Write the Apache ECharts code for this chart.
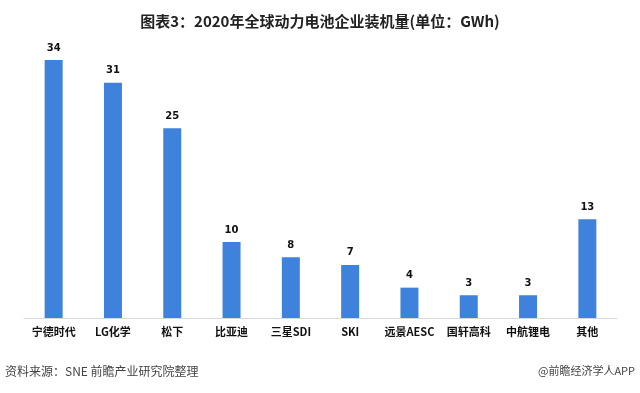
<!DOCTYPE html>
<html><head><meta charset="utf-8">
<script src="https://cdn.jsdelivr.net/npm/echarts@6/dist/echarts.min.js"></script>
<style>html,body{margin:0;padding:0;background:#fff}#c{width:640px;height:393px}</style>
</head><body><div id="c"></div>
<script>
const categories = ['宁德时代','LG化学','松下','比亚迪','三星SDI','SKI','远景AESC','国轩高科','中航锂电','其他'];
const values = [34,31,25,10,8,7,4,3,3,13];
const titleText = '图表3：2020年全球动力电池企业装机量(单位：GWh)';
const sourceText = '资料来源：SNE 前瞻产业研究院整理';
const brandText = '@前瞻经济学人APP';

const chart = echarts.init(document.getElementById('c'), null, {renderer:'canvas'});
chart.setOption({
  animation:false,
  backgroundColor:'#fff',
  title:{text:titleText,left:'center',top:9,textStyle:{fontSize:15,fontWeight:'bold',color:'#222',fontFamily:'"Noto Sans CJK SC", sans-serif'}},
  graphic:[
    {type:'text',left:5,top:365,style:{text:sourceText,fontSize:12,fill:'#444',fontFamily:'"Noto Sans CJK SC", sans-serif'}},
    {type:'text',right:5,top:365,style:{text:brandText,fontSize:11,fill:'#444',fontFamily:'"Noto Sans CJK SC", sans-serif'}}
  ],
  grid:{left:24,right:23,top:60,bottom:75},
  xAxis:{type:'category',data:categories,
    axisLine:{lineStyle:{color:'#d9d9d9'}},axisTick:{show:false},
    axisLabel:{color:'#111',fontSize:11,fontWeight:'bold',margin:8,interval:0,fontFamily:'"Noto Sans CJK SC", sans-serif'}},
  yAxis:{type:'value',min:0,max:34,show:false,splitLine:{show:false}},
  series:[{type:'bar',data:values,barWidth:18,
    itemStyle:{color:'#3f82dc'},
    label:{show:true,position:'top',distance:7,color:'#111',fontSize:10,fontWeight:'bold',fontFamily:'"DejaVu Sans", sans-serif'}}]
});
</script></body></html>
